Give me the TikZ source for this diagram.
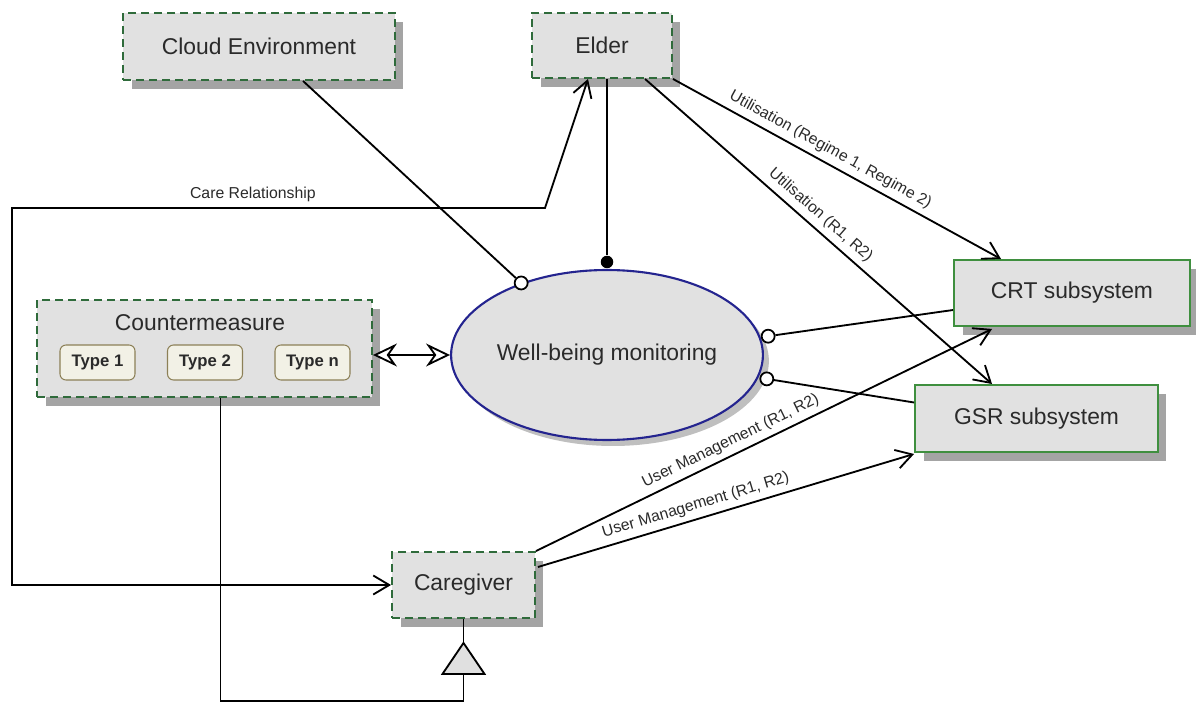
\documentclass[tikz,border=0pt]{standalone}
\usepackage{fontspec}
\setmainfont{Liberation Sans}
\usepackage{tikz}
\usetikzlibrary{calc,shapes.geometric,shadows,arrows.meta}

\definecolor{boxfill}{HTML}{E1E1E1}
\definecolor{boxshadow}{HTML}{A4A4A4}
\definecolor{dashgreen}{HTML}{2F6B3B}
\definecolor{sysgreen}{HTML}{3F8F3F}
\definecolor{casedge}{HTML}{24248F}
\definecolor{typeline}{HTML}{8C8057}
\definecolor{typefill}{HTML}{F2F1E6}
\definecolor{inktext}{HTML}{2A2A2A}

\tikzset{
	box/.style={draw=dashgreen, line width=1.1pt, dash pattern=on 0.16cm off 0.1cm,
		fill=boxfill, text=inktext, inner sep=0pt, font=\fontsize{13}{15}\selectfont,
		drop shadow={shadow xshift=0.17cm, shadow yshift=-0.18cm, fill=boxshadow, opacity=1}},
	subsys/.style={box, solid, draw=sysgreen},
	typebox/.style={draw=typeline, fill=typefill, line width=0.6pt, rounded corners=0.12cm,
		minimum width=1.5cm, minimum height=0.7cm, inner sep=0pt, text=inktext,
		font=\bfseries\fontsize{9.5}{11}\selectfont},
	usecase/.style={ellipse, draw=casedge, line width=1.2pt, fill=boxfill, text=inktext,
		inner sep=0pt, font=\fontsize{13}{15}\selectfont,
		drop shadow={shadow xshift=0.12cm, shadow yshift=-0.12cm, fill=black!25, opacity=1}},
	link/.style={line width=1.05pt},
	barb/.style={-{Straight Barb[length=0.32cm,width=0.38cm]}},
	barbs/.style={{Straight Barb[length=0.32cm,width=0.38cm]}-{Straight Barb[length=0.32cm,width=0.38cm]}},
	hollowarrows/.style={{Stealth[open,fill=white,length=0.48cm,width=0.46cm,inset=0.16cm]}-{Stealth[open,fill=white,length=0.48cm,width=0.46cm,inset=0.16cm]}},
	lbl/.style={font=\fontsize{9}{10}\selectfont, text=inktext, sloped, above, inner sep=3pt},
	hollow/.style={circle, draw, fill=white, line width=1pt, inner sep=0pt, minimum size=0.26cm},
	solidball/.style={circle, fill=black, inner sep=0pt, minimum size=0.25cm},
}

\begin{document}
\begin{tikzpicture}[x=0.02cm, y=-0.02cm]

% canvas %{{{2

	\useasboundingbox (0,0) rectangle (1196,702);

% actors and systems %{{{2

	\node[box, minimum width=5.44cm, minimum height=1.34cm] (cloud) at (259,46.5) {Cloud Environment};
	\node[box, minimum width=2.8cm, minimum height=1.3cm] (elder) at (602,45.5) {Elder};
	\node[box, minimum width=2.86cm, minimum height=1.32cm] (caregiver) at (463.5,585) {Caregiver};

	\node[subsys, minimum width=4.72cm, minimum height=1.32cm] (crt) at (1072,293) {CRT subsystem};
	\node[subsys, minimum width=4.86cm, minimum height=1.34cm] (gsr) at (1036.5,418.5) {GSR subsystem};

% countermeasure %{{{2

	\node[box, minimum width=6.7cm, minimum height=1.94cm] (counter) at (204.5,348.5) {};
	\node[text=inktext, font=\fontsize{13}{15}\selectfont] (countertitle) at (200,323) {Countermeasure};

	\node[typebox] (type1) at (97.5,362.5) {Type 1};
	\node[typebox] (type2) at (205,362.5) {Type 2};
	\node[typebox] (typen) at (312.5,362.5) {Type n};

% use case %{{{2

	\node[usecase, minimum width=5.78cm, minimum height=3.4cm] (wellbeing) at (607,355) {Well-being monitoring};

% ends on the use case %{{{2

	\node[hollow] (cloudend) at (wellbeing.140) {};
	\node[solidball] (elderend) at ($(wellbeing.north)+(0,-7)$) {};
	\node[hollow] (crtend) at ($(wellbeing.7)+(8,0)$) {};
	\node[hollow] (gsrend) at ($(wellbeing.-9)+(9,0)$) {};

% bends %{{{2

	\coordinate (careA) at (545,208);
	\coordinate (careB) at (12,208);
	\coordinate (tritop) at ($(caregiver.south)+(0,24)$);
	\coordinate (tribase) at ($(caregiver.south)+(0,55)$);
	\coordinate (genbot) at ($(caregiver.south)+(0,82)$);

% associations %{{{2

	\draw[link] ($(cloud.south)+(44,0)$) -- (cloudend);
	\draw[link] (elder.south -| elderend) -- (elderend);
	\draw[link] (crtend) -- ($(crt.west)+(0,17)$);
	\draw[link] (gsrend) -- ($(gsr.west)+(0,-16)$);

	\draw[link, hollowarrows] (counter.east |- wellbeing.west) -- (wellbeing.west);

% directed relations %{{{2

	\draw[link, barb] (elder.south east) -- ($(crt.north west)+(48,0)$)
		node[lbl, pos=0.46] {Utilisation (Regime 1, Regime 2)};

	\draw[link, barb] ($(elder.south)+(43,0)$) -- ($(gsr.north west)+(78,0)$)
		node[lbl, pos=0.48] {Utilisation (R1, R2)};

	\draw[link, barb] (caregiver.north east) -- ($(crt.south west)+(39,2)$)
		node[lbl, pos=0.44] {User Management (R1, R2)};

	\draw[link, barb] ($(caregiver.east)+(2,-18)$) -- ($(gsr.south west)+(0,1)$)
		node[lbl, pos=0.43] {User Management (R1, R2)};

	\draw[link, barbs] ($(elder.south)+(-14,0)$) -- (careA)
		-- node[lbl, pos=0.548] {Care Relationship} (careB) |- (caregiver.west);

% generalisation %{{{2

	\draw[link] ($(counter.south)+(16,0)$) |- (genbot) -- (tribase);
	\draw[link, fill=black!12] (tritop) -- ($(tribase)+(-21,0)$) -- ($(tribase)+(21,0)$) -- cycle;
	\draw[link] (tritop) -- (caregiver.south);

% closing %{{{2

\end{tikzpicture}
\end{document}
